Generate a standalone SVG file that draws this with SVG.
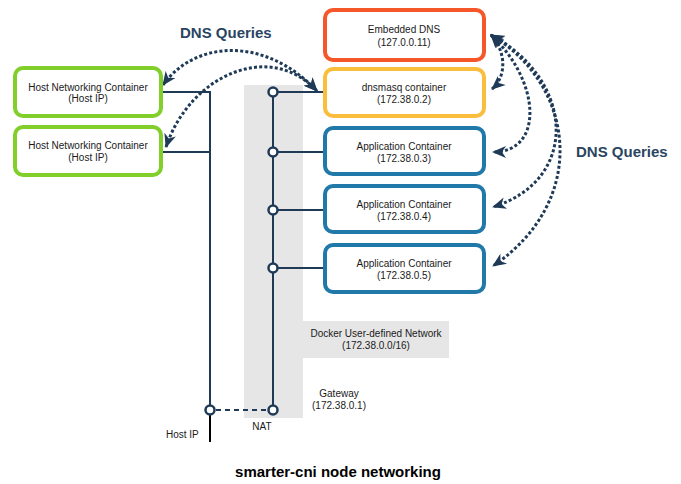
<svg xmlns="http://www.w3.org/2000/svg" width="681" height="484" viewBox="0 0 681 484">
  <style>
    text { font-family: "Liberation Sans", Arial, Helvetica, sans-serif; fill: #1a1a1a; }
    .lbl { font-size: 10px; text-anchor: middle; }
    .side { font-size: 10px; }
    .head { font-size: 15px; font-weight: bold; fill: #2a4562; }
    .title { font-size: 15px; font-weight: bold; fill: #000; text-anchor: middle; }
    .box { fill: #fff; stroke-width: 4; }
    .host { stroke: #82cf2b; }
    .dns { stroke: #f5572a; }
    .masq { stroke: #fbbd3c; }
    .app { stroke: #2179a9; }
    .wire { fill: none; stroke: #1f3a57; stroke-width: 2; }
    .port { fill: #fff; stroke: #1f3a57; stroke-width: 2.5; }
    .query { fill: none; stroke: #1f3a57; stroke-width: 3; stroke-dasharray: 3 2.2; marker-start: url(#tip); marker-end: url(#tip); }
    .band { fill: #e6e6e6; }
  </style>
  <defs>
    <marker id="tip" markerUnits="userSpaceOnUse" markerWidth="14" markerHeight="14" viewBox="0 0 14 12" refX="13" refY="6" orient="auto-start-reverse">
      <path d="M0,0 L14,6 L0,12 L4,6 z" fill="#1f3a57"/>
    </marker>
  </defs>

  <!-- user-defined network band -->
  <g id="network">
    <rect class="band" x="244" y="85" width="59" height="333"/>
    <rect class="band" x="303" y="321" width="146" height="37"/>
    <text class="lbl" x="376" y="337">Docker User-defined Network</text>
    <text class="lbl" x="376" y="349">(172.38.0.0/16)</text>
  </g>

  <!-- wiring between containers, bridge and host -->
  <g id="connectors">
    <polyline class="wire" points="161,92 210,92 210,405"/>
    <line class="wire" x1="161" y1="152" x2="210" y2="152"/>
    <line class="wire" x1="273" y1="92" x2="273" y2="405"/>
    <line class="wire" x1="273" y1="92" x2="325" y2="92"/>
    <line class="wire" x1="273" y1="152" x2="325" y2="152"/>
    <line class="wire" x1="273" y1="210" x2="325" y2="210"/>
    <line class="wire" x1="273" y1="268" x2="325" y2="268"/>
    <line x1="216" y1="410" x2="267" y2="410" stroke="#1f3a57" stroke-width="2" stroke-dasharray="5 4"/>
    <line x1="210" y1="415" x2="210" y2="442" stroke="#000" stroke-width="2"/>
    <circle class="port" cx="273" cy="92" r="4.5"/>
    <circle class="port" cx="273" cy="152" r="4.5"/>
    <circle class="port" cx="273" cy="210" r="4.5"/>
    <circle class="port" cx="273" cy="268" r="4.5"/>
    <circle class="port" cx="273" cy="410" r="4.5"/>
    <circle class="port" cx="210" cy="410" r="4.5"/>

    <!-- DNS query paths -->
    <path class="query" d="M163,85 C195,40 265,36 317,91"/>
    <path class="query" d="M166,147 C190,75 270,40 317,91"/>
    <path class="query" d="M491,35 C505,50 508,75 492,89"/>
    <path class="query" d="M491,35 C540,80 545,152 493,152"/>
    <path class="query" d="M491,35 C575,80 580,180 493,207"/>
    <path class="query" d="M491,35 C575,85 590,200 493,266"/>
  </g>

  <text class="head" x="180" y="38">DNS Queries</text>
  <text class="head" x="576" y="157">DNS Queries</text>

  <g id="host1">
    <rect class="box host" x="15" y="68" width="146" height="48" rx="8"/>
    <text class="lbl" x="88" y="91">Host Networking Container</text>
    <text class="lbl" x="88" y="102">(Host IP)</text>
  </g>
  <g id="host2">
    <rect class="box host" x="15" y="127" width="146" height="48" rx="8"/>
    <text class="lbl" x="88" y="149">Host Networking Container</text>
    <text class="lbl" x="88" y="160.5">(Host IP)</text>
  </g>

  <g id="embedded-dns">
    <rect class="box dns" x="325" y="10" width="159" height="50" rx="8"/>
    <text class="lbl" x="404" y="33">Embedded DNS</text>
    <text class="lbl" x="404" y="46">(127.0.0.11)</text>
  </g>
  <g id="dnsmasq">
    <rect class="box masq" x="325" y="69" width="159" height="47" rx="8"/>
    <text class="lbl" x="404" y="91">dnsmasq container</text>
    <text class="lbl" x="404" y="103">(172.38.0.2)</text>
  </g>
  <g id="app1">
    <rect class="box app" x="325" y="128" width="159" height="46" rx="8"/>
    <text class="lbl" x="404" y="149.5">Application Container</text>
    <text class="lbl" x="404" y="161.5">(172.38.0.3)</text>
  </g>
  <g id="app2">
    <rect class="box app" x="325" y="186" width="159" height="46" rx="8"/>
    <text class="lbl" x="404" y="207.5">Application Container</text>
    <text class="lbl" x="404" y="219.5">(172.38.0.4)</text>
  </g>
  <g id="app3">
    <rect class="box app" x="325" y="245" width="159" height="47" rx="8"/>
    <text class="lbl" x="404" y="266.5">Application Container</text>
    <text class="lbl" x="404" y="278.5">(172.38.0.5)</text>
  </g>

  <g id="gateway">
    <text class="lbl" x="339" y="397">Gateway</text>
    <text class="lbl" x="339" y="409">(172.38.0.1)</text>
  </g>
  <text class="lbl" x="262" y="430">NAT</text>
  <text class="side" x="166" y="438">Host IP</text>

  <text class="title" x="338" y="477">smarter-cni node networking</text>
</svg>
